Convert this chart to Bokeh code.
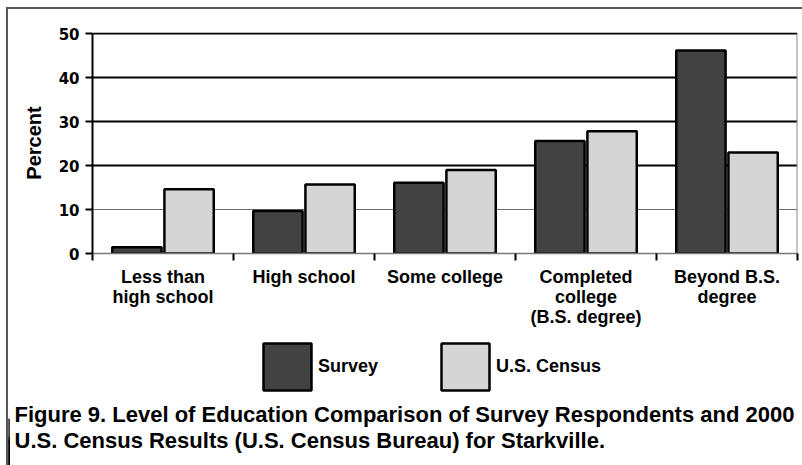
from bokeh.plotting import figure
from bokeh.layouts import column
from bokeh.models import (Range1d, FixedTicker, Grid, Legend, LegendItem, Label,
                          ColumnDataSource, LinearAxis)
from bokeh.embed import file_html
from bokeh.resources import INLINE

# ---- data ----
categories = ["Less than\nhigh school", "High school", "Some college",
              "Completed\ncollege\n(B.S. degree)", "Beyond B.S.\ndegree"]
survey = [1.4, 9.7, 16.1, 25.6, 46.2]
census = [14.6, 15.7, 19.0, 27.8, 23.0]
y_ticks = [0, 10, 20, 30, 40, 50]
series_names = ["Survey", "U.S. Census"]
caption = ("Figure 9. Level of Education Comparison of Survey Respondents and 2000\n"
           "U.S. Census Results (U.S. Census Bureau) for Starkville.")

FONT = "Liberation Sans"
DARK = "#424242"
LIGHT = "#d5d5d5"
BORDER = "2px solid #5a5a5a"

n = len(categories)
pos = list(range(n))
centers = [i + 0.5 for i in pos]
src = ColumnDataSource(dict(
    xs=[c - 0.185 for c in centers],
    xc=[c + 0.185 for c in centers],
    survey=survey, census=census))


def no_align(fig):
    try:
        fig.frame_align = False
    except Exception:
        pass


# ---------------- chart ----------------
H1 = 326
p = figure(width=794, height=H1, output_backend="svg", toolbar_location=None,
           x_range=Range1d(0, n), y_range=Range1d(0, 50.3),
           min_border_left=84, min_border_right=5, min_border_top=23,
           min_border_bottom=H1 - 244, x_axis_type=None, y_axis_type=None)
no_align(p)
p.background_fill_color = "white"
p.border_fill_color = "white"
p.outline_line_color = None

yax = LinearAxis(ticker=FixedTicker(ticks=y_ticks), bounds=(0, 50))
yax.axis_line_color = "black"
yax.axis_line_width = 2
yax.major_tick_line_color = "black"
yax.major_tick_line_width = 2
yax.major_tick_out = 7
yax.major_tick_in = 0
yax.minor_tick_line_color = None
yax.major_label_standoff = 6
yax.major_label_text_font = "DejaVu Sans"
yax.major_label_text_font_style = "bold"
yax.major_label_text_font_size = "15px"
yax.major_label_text_color = "black"
yax.axis_label = "Percent"
yax.axis_label_text_font = FONT
yax.axis_label_text_font_style = "bold"
yax.axis_label_text_font_size = "20px"
yax.axis_label_text_color = "black"
yax.axis_label_standoff = 11
p.add_layout(yax, "left")

xax = LinearAxis(ticker=FixedTicker(ticks=centers, minor_ticks=list(range(n + 1))))
xax.major_label_overrides = {c: lab for c, lab in zip(centers, categories)}
xax.axis_line_color = "#7a7a7a"
xax.axis_line_width = 1.5
xax.major_tick_line_color = None
xax.major_tick_out = 7
xax.minor_tick_line_color = "black"
xax.minor_tick_line_width = 2
xax.minor_tick_out = 7
xax.minor_tick_in = 0
xax.major_label_standoff = 6
xax.major_label_text_font = FONT
xax.major_label_text_font_style = "bold"
xax.major_label_text_font_size = "18px"
xax.major_label_text_line_height = 1.0
xax.major_label_text_color = "black"
p.add_layout(xax, "below")

g1 = Grid(dimension=1, ticker=FixedTicker(ticks=[20, 30, 40, 50]),
          grid_line_color="black", grid_line_width=2)
g2 = Grid(dimension=1, ticker=FixedTicker(ticks=[10]),
          grid_line_color="#6e6e6e", grid_line_width=1)
p.add_layout(g1)
p.add_layout(g2)

p.segment(x0=[n], y0=[0], x1=[n], y1=[50], line_color="#8a8a8a", line_width=2)

p.vbar(x="xs", top="survey", bottom=0, width=0.35, source=src,
       fill_color=DARK, line_color="black", line_width=2.5)
p.vbar(x="xc", top="census", bottom=0, width=0.35, source=src,
       fill_color=LIGHT, line_color="black", line_width=2.5)

# ---------------- legend + caption ----------------
W2, H2 = 794, 465 - 9 - H1
q = figure(width=W2, height=H2, output_backend="svg", toolbar_location=None,
           x_range=Range1d(100, 100 + W2), y_range=Range1d(0, H2),
           min_border=0, min_border_left=0, min_border_right=0,
           min_border_top=0, min_border_bottom=0,
           x_axis_type=None, y_axis_type=None)
no_align(q)
q.background_fill_color = "white"
q.border_fill_color = "white"
q.outline_line_color = None
q.grid.visible = False

# legend-only renderers (their bars lie outside this panel's view)
l1 = q.vbar(x="xs", top="survey", width=0.35, source=src,
            fill_color=DARK, line_color="black", line_width=2.5)
l2 = q.vbar(x="xc", top="census", width=0.35, source=src,
            fill_color=LIGHT, line_color="black", line_width=2.5)
legend = Legend(items=[LegendItem(label=series_names[0], renderers=[l1]),
                       LegendItem(label=series_names[1], renderers=[l2])],
                orientation="horizontal", location=(249, H2 - 61),
                glyph_width=60, glyph_height=59, label_standoff=1,
                spacing=57, padding=0, margin=0,
                border_line_alpha=0, background_fill_alpha=0,
                label_text_font=FONT, label_text_font_style="bold",
                label_text_font_size="18px", label_text_color="black")
q.add_layout(legend, "center")

q.add_layout(Label(x=6, y=H2 - 66, x_units="screen", y_units="screen",
                   text=caption, text_align="left", text_baseline="top",
                   text_font=FONT, text_font_style="bold",
                   text_font_size="22px", text_line_height=1.05,
                   text_color="black"))

layout = column(p, q, spacing=0)
layout.margin = (7, 0, 0, 6)
layout.styles = {"border-top": BORDER, "border-left": BORDER}

open("out.html", "w").write(file_html(layout, INLINE))
